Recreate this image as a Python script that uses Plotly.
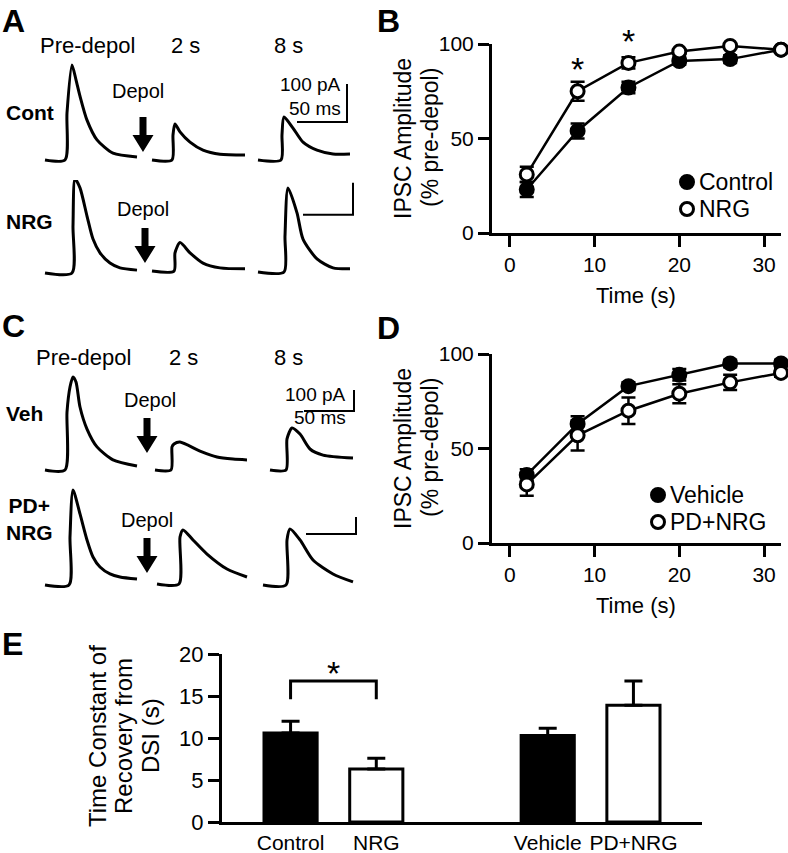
import plotly.graph_objects as go

# ---------------- data ----------------
time_s = [2, 8, 14, 20, 26, 32]
control_amp = [23, 54, 77, 91, 92, 97]
control_sem = [4, 4, 3, 2, 2, 1]
nrg_amp = [31, 75, 90, 96, 99, 97]
nrg_sem = [4, 5, 3, 1, 1, 1]
vehicle_amp = [36, 63, 83, 89, 95, 95]
vehicle_sem = [3, 4, 2, 3, 2, 2]
pdnrg_amp = [31, 57, 70, 79, 85, 90]
pdnrg_sem = [6, 8, 7, 5, 4, 2]

groups = ["Control", "NRG", "Vehicle", "PD+NRG"]
group_pos = [1, 2, 4, 5]
tau = [10.6, 6.3, 10.3, 13.9]
tau_sem = [1.4, 1.3, 0.85, 2.9]

# example IPSC sweeps: time (ms from sweep start), current (pA above baseline)
cont_pre_t = [0, 20, 22, 27, 31, 35, 42, 52, 68, 92]
cont_pre_i = [0, 0, 124, 250, 211, 168, 105, 53, 18, 8]
cont_2s_t = [0, 20, 21, 23, 28, 38, 51, 68, 93]
cont_2s_i = [0, 0, 66, 95, 74, 47, 26, 15, 13]
cont_8s_t = [0, 23, 24, 26, 35, 45, 59, 75, 92]
cont_8s_i = [0, 0, 66, 113, 84, 47, 26, 16, 16]

nrg_pre_t = [0, 27, 28, 30, 35, 42, 48, 55, 65, 75, 92]
nrg_pre_i = [0, 0, 147, 294, 266, 178, 106, 63, 31, 16, 9]
nrg_2s_t = [0, 22, 23, 28, 38, 51, 68, 93]
nrg_2s_i = [6, 6, 63, 95, 63, 31, 16, 13]
nrg_8s_t = [0, 26, 27, 30, 39, 45, 59, 75, 92]
nrg_8s_i = [3, 3, 116, 266, 188, 106, 44, 16, 13]

veh_pre_t = [0, 20, 22, 25, 28, 31, 35, 42, 52, 68, 92]
veh_pre_i = [0, 0, 276, 395, 443, 419, 300, 195, 110, 48, 19]
veh_2s_t = [0, 16, 17, 19, 25, 45, 62, 78, 92]
veh_2s_i = [0, 0, 110, 124, 133, 90, 62, 52, 48]
veh_8s_t = [0, 16, 17, 22, 30, 40, 53, 83]
veh_8s_i = [0, 0, 148, 200, 171, 100, 71, 57]

pd_pre_t = [0, 24, 25, 28, 35, 42, 48, 55, 65, 75, 92]
pd_pre_i = [0, 0, 282, 559, 418, 265, 165, 106, 65, 47, 35]
pd_2s_t = [0, 22, 23, 26, 36, 50, 70, 90]
pd_2s_i = [6, 6, 282, 324, 265, 182, 94, 47]
pd_8s_t = [0, 23, 24, 27, 37, 50, 70, 90]
pd_8s_i = [0, 0, 265, 329, 265, 147, 65, 18]

scale_ms = 50
scale_pA = 100

# ---------------- layout helpers ----------------
W, H = 788, 853
FONT = "Arial, Liberation Sans, sans-serif"


def fx(p):
    return p / W


def fy(p):
    return 1 - p / H


fig = go.Figure()

axis_common = dict(showline=True, linewidth=3, linecolor="black", ticks="outside",
                   ticklen=11, tickwidth=3, tickcolor="black", showgrid=False,
                   zeroline=False, automargin=False,
                   tickfont=dict(size=21, color="black", family=FONT))

# ---- panel B and D (recovery time course) ----
for ax_i, (ytop, ybot) in zip([1, 2], [(44, 233), (354, 543)]):
    xs = "" if ax_i == 1 else str(ax_i)
    fig.update_layout({
        f"xaxis{xs}": dict(axis_common, domain=[fx(492), fx(781)], range=[-2.1, 32],
                          tickvals=[0, 10, 20, 30], anchor=f"y{xs}"),
        f"yaxis{xs}": dict(axis_common, domain=[fy(ybot), fy(ytop)], range=[0, 100],
                          tickvals=[0, 50, 100], anchor=f"x{xs}"),
    })


def series(x, y, err, filled, xa, ya):
    fig.add_trace(go.Scatter(
        x=x, y=y, mode="lines+markers", xaxis=xa, yaxis=ya, showlegend=False,
        line=dict(color="black", width=2.5), cliponaxis=False,
        error_y=dict(type="data", array=err, color="black", thickness=2.5, width=7),
        marker=dict(size=13, symbol="circle", color="black" if filled else "white",
                    line=dict(color="black", width=3))))


series(time_s, control_amp, control_sem, True, "x", "y")
series(time_s, nrg_amp, nrg_sem, False, "x", "y")
series(time_s, vehicle_amp, vehicle_sem, True, "x2", "y2")
series(time_s, pdnrg_amp, pdnrg_sem, False, "x2", "y2")

# overlay axis in page pixels for legend keys
fig.update_layout(
    xaxis8=dict(domain=[0, 1], range=[0, W], visible=False, anchor="y8"),
    yaxis8=dict(domain=[0, 1], range=[H, 0], visible=False, anchor="x8"),
)
legend_keys = [  # (x px, y px, filled, label)
    (687, 182, True, "Control"), (687, 209, False, "NRG"),
    (658, 495, True, "Vehicle"), (658, 522, False, "PD+NRG"),
]
fig.add_trace(go.Scatter(
    x=[k[0] for k in legend_keys], y=[k[1] for k in legend_keys], mode="markers",
    xaxis="x8", yaxis="y8", showlegend=False, cliponaxis=False,
    marker=dict(size=13, color=["black" if k[2] else "white" for k in legend_keys],
                line=dict(color="black", width=3))))

# ---- panel E (bar chart) ----
fig.update_layout(
    xaxis3=dict(axis_common, domain=[fx(222), fx(702)], range=[0.2, 5.8], anchor="y3",
                tickvals=group_pos, ticktext=groups, ticks="", ticklabelstandoff=0,
                tickfont=dict(size=21, family=FONT, color="black")),
    yaxis3=dict(axis_common, domain=[fy(822), fy(654)], range=[0, 20], anchor="x3",
                tickvals=[0, 5, 10, 15, 20], tickfont=dict(size=22, family=FONT, color="black")),
)
fig.add_trace(go.Bar(
    x=group_pos, y=tau, xaxis="x3", yaxis="y3", width=0.62, showlegend=False,
    marker=dict(color=["black", "white", "black", "white"], line=dict(color="black", width=3)),
    error_y=dict(type="data", array=tau_sem, arrayminus=[0, 0, 0, 0], symmetric=False,
                 color="black", thickness=3, width=9)))

# significance bracket in E
fig.add_shape(type="path", xref="x3", yref="y3",
              path="M 1,14.6 L 1,16.8 L 2,16.8 L 2,14.6",
              line=dict(color="black", width=3))

# ---- panels A and C: example sweeps ----
rows = [
    # name, x px, y px, baseline px, px per pA, sweep offsets (ms)
    ("4", (40, 360), (40, 178), 160, 0.38, [5, 112, 218]),
    ("5", (40, 360), (180, 292), 273, 0.32, [5, 112, 218]),
    ("6", (40, 360), (360, 482), 470, 0.21, [5, 115, 230]),
    ("7", (40, 360), (484, 600), 585, 0.17, [5, 117, 223]),
]
sweeps = [
    [(cont_pre_t, cont_pre_i), (cont_2s_t, cont_2s_i), (cont_8s_t, cont_8s_i)],
    [(nrg_pre_t, nrg_pre_i), (nrg_2s_t, nrg_2s_i), (nrg_8s_t, nrg_8s_i)],
    [(veh_pre_t, veh_pre_i), (veh_2s_t, veh_2s_i), (veh_8s_t, veh_8s_i)],
    [(pd_pre_t, pd_pre_i), (pd_2s_t, pd_2s_i), (pd_8s_t, pd_8s_i)],
]
# scale-bar corner (ms, pA) in each row
bar_corner = [(307, 100), (313, 182), (314, 281), (316, 300)]

for (n, xpx, ypx, base, s, offs), sw, (bx, by) in zip(rows, sweeps, bar_corner):
    fig.update_layout({
        f"xaxis{n}": dict(domain=[fx(xpx[0]), fx(xpx[1])], range=[0, xpx[1] - xpx[0]],
                         visible=False, anchor=f"y{n}"),
        f"yaxis{n}": dict(domain=[fy(ypx[1]), fy(ypx[0])],
                         range=[(base - ypx[1]) / s, (base - ypx[0]) / s],
                         visible=False, anchor=f"x{n}"),
    })
    for off, (t, i) in zip(offs, sw):
        fig.add_trace(go.Scatter(x=[v + off for v in t], y=i, mode="lines",
                                 xaxis=f"x{n}", yaxis=f"y{n}", showlegend=False,
                                 cliponaxis=False,
                                 line=dict(color="black", width=3, shape="spline",
                                           smoothing=0.7)))
    fig.add_trace(go.Scatter(x=[bx - scale_ms, bx, bx], y=[by, by, by + scale_pA],
                             mode="lines", xaxis=f"x{n}", yaxis=f"y{n}", showlegend=False,
                             cliponaxis=False, line=dict(color="black", width=2)))


# arrows (Depol)
def arrow(xc, ytop, length=35):
    sh, hw, hl = 3.5, 10.5, 17
    pts = [(xc - sh, ytop), (xc + sh, ytop), (xc + sh, ytop + length - hl),
           (xc + hw, ytop + length - hl), (xc, ytop + length),
           (xc - hw, ytop + length - hl), (xc - sh, ytop + length - hl)]
    path = "M " + " L ".join(f"{fx(a):.5f},{fy(b):.5f}" for a, b in pts) + " Z"
    fig.add_shape(type="path", xref="paper", yref="paper", path=path,
                  fillcolor="black", line=dict(color="black", width=0))


arrow(143, 117)
arrow(145, 228)
arrow(147, 418)
arrow(147, 538)


def text(x, y, s, size=21, bold=False, xanchor="center", yanchor="middle", angle=0):
    if bold:
        s = f"<b>{s}</b>"
    fig.add_annotation(text=s, showarrow=False, xanchor=xanchor, yanchor=yanchor,
                       x=fx(x), y=fy(y), xref="paper", yref="paper", textangle=angle,
                       font=dict(size=size, family=FONT, color="black"))


# panel letters
for lab, x, y in [("A", 0, 21), ("B", 375, 21), ("C", 0, 326), ("D", 375, 328), ("E", 0, 644)]:
    text(x, y, lab, size=32, bold=True, xanchor="left")

# A labels
text(87, 45, "Pre-depol", size=22)
text(185, 45, "2 s", size=22)
text(288, 45, "8 s", size=22)
text(4, 112, "Cont", size=21, bold=True, xanchor="left")
text(4, 221, "NRG", size=21, bold=True, xanchor="left")
text(138, 91, "Depol", size=20)
text(143, 209, "Depol", size=20)
text(343, 85, "100 pA", size=19, xanchor="right")
text(343, 108, "50 ms", size=19, xanchor="right")

# C labels
text(83, 357, "Pre-depol", size=22)
text(183, 357, "2 s", size=22)
text(288, 357, "8 s", size=22)
text(4, 413, "Veh", size=21, bold=True, xanchor="left")
text(4, 519, "PD+<br>NRG", size=21, bold=True, xanchor="left")
text(150, 400, "Depol", size=20)
text(147, 520, "Depol", size=20)
text(348, 394, "100 pA", size=19, xanchor="right")
text(348, 417, "50 ms", size=19, xanchor="right")

# legend labels
for kx, ky, _, lab in legend_keys:
    text(kx + 10, ky, lab, size=23, xanchor="left")

# B / D axis titles
for yc, ytitle in [(138, 296), (448, 605)]:
    text(403, yc, "IPSC Amplitude", size=23, angle=-90)
    text(430, yc, "(% pre-depol)", size=23, angle=-90)
    text(636, ytitle, "Time (s)", size=22)

# E axis title
text(97, 736, "Time Constant of", size=24, angle=-90)
text(123, 736, "Recovery from", size=24, angle=-90)
text(150, 736, "DSI (s)", size=24, angle=-90)

# significance stars
fig.add_annotation(text="*", showarrow=False, x=8, y=87, xref="x", yref="y",
                   font=dict(size=34, family=FONT, color="black"))
fig.add_annotation(text="*", showarrow=False, x=14, y=100, yshift=3, xref="x", yref="y",
                   font=dict(size=34, family=FONT, color="black"))
fig.add_annotation(text="*", showarrow=False, x=1.5, y=17.7, xref="x3", yref="y3",
                   font=dict(size=34, family=FONT, color="black"))

fig.update_layout(width=W, height=H, margin=dict(l=0, r=0, t=0, b=0, autoexpand=False),
                  paper_bgcolor="white", plot_bgcolor="rgba(0,0,0,0)",
                  showlegend=False, font=dict(family=FONT, color="black"))

fig.write_html("out.html", config={"displayModeBar": False},
               post_script="document.body.style.margin='0px';document.body.style.overflow='hidden';")
